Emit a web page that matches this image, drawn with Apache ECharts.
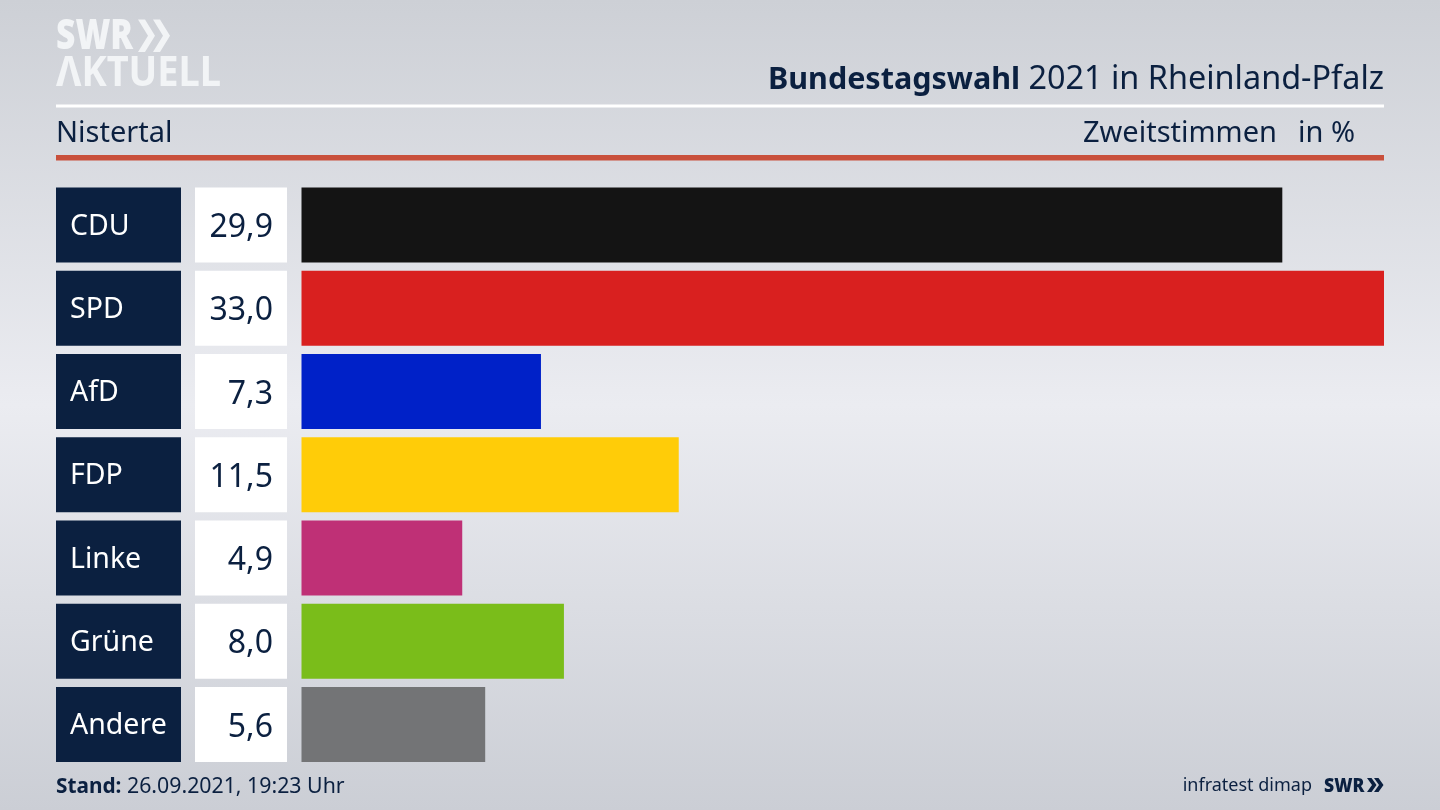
<!DOCTYPE html>
<html><head><meta charset="utf-8">
<style>html,body{margin:0;padding:0;overflow:hidden}#c{width:1440px;height:810px}</style>
<script src="https://cdn.jsdelivr.net/npm/echarts@6/dist/echarts.min.js"></script>
</head><body><div id="c"></div>
<script>
const categories = ['CDU','SPD','AfD','FDP','Linke','Grüne','Andere'];
const values = [29.9,33.0,7.3,11.5,4.9,8.0,5.6];
const colors = ['#141414','#d9201f','#0021c8','#ffcc08','#bf3076','#7abd1a','#737476'];
const titleBold = 'Bundestagswahl';
const titleRest = ' 2021 in Rheinland-Pfalz';
const region = 'Nistertal';
const unitA = 'Zweitstimmen';
const unitB = 'in %';
const standLabel = 'Stand:';
const standText = ' 26.09.2021, 19:23 Uhr';
const source = 'infratest dimap';

const FONT = '"Noto Sans", sans-serif';
const NAVY = '#0b2040';
const LOGO = '#f2f4f6';
const fmt = v => v.toFixed(1).replace('.', ',');
const chart = echarts.init(document.getElementById('c'));
const chev = (x, y, w, h, t, fill) => ({type:'polygon', shape:{points:[[x,y],[x+t,y],[x+t+w,y+h/2],[x+t,y+h],[x,y+h],[x+w,y+h/2]]}, style:{fill}, silent:true});
const txt = (x,y,text,size,extra,sx) => ({type:'text', x, y, scaleX:sx||1, silent:true, style:Object.assign({text, fontFamily:FONT, fontSize:size, fill:NAVY, textVerticalAlign:'middle'}, extra||{})});
chart.setOption({
  animation:false,
  backgroundColor:new echarts.graphic.LinearGradient(0,0,0,1,[
    {offset:0,color:'#cdd0d6'},{offset:0.5,color:'#ebecf1'},{offset:1,color:'#cbced5'}]),
  title:{
    right:56, top:64, padding:0,
    text:'{b|'+titleBold+'}{r|'+titleRest+'}',
    textStyle:{rich:{
      b:{fontFamily:FONT,fontSize:30.5,fontWeight:700,color:NAVY},
      r:{fontFamily:FONT,fontSize:32.4,fontWeight:400,color:NAVY}}}
  },
  grid:{left:301.5,right:56,top:183.4,bottom:43.8,containLabel:false},
  xAxis:{type:'value',min:0,max:33,show:false},
  yAxis:[
    {type:'category',inverse:true,data:categories,position:'left',
     axisLine:{show:false},axisTick:{show:false},
     axisLabel:{interval:0,margin:245.5,align:'left',verticalAlign:'middle',width:111,height:75,lineHeight:75,
       padding:[0,0,0,14],backgroundColor:NAVY,formatter:v=>'{t|'+v+'}',
       rich:{t:{padding:[3,0,0,0],color:'#ffffff',fontFamily:FONT,fontSize:28.5}}}},
    {type:'category',inverse:true,data:values.map(fmt),position:'left',
     axisLine:{show:false},axisTick:{show:false},
     axisLabel:{interval:0,margin:14.5,align:'right',verticalAlign:'middle',width:78,height:75,lineHeight:75,
       padding:[0,14,0,0],backgroundColor:'#ffffff',formatter:v=>'{t|'+v+'}',
       rich:{t:{padding:[6,0,0,0],color:NAVY,fontFamily:FONT,fontSize:32}}}}
  ],
  series:[{type:'bar',barWidth:75,yAxisIndex:0,
    data:values.map((v,i)=>({value:v,itemStyle:{color:colors[i]}}))}],
  graphic:[
    {type:'rect',shape:{x:56,y:104.5,width:1328,height:3},style:{fill:'#ffffff'},silent:true},
    {type:'rect',shape:{x:56,y:155,width:1328,height:5.5},style:{fill:'#c9503c'},silent:true},
    txt(56,134,region,29),
    txt(1277,134,unitA,29,{textAlign:'right'}),
    txt(1355,134,unitB,29,{textAlign:'right'}),
    {type:'text',x:56,y:787,silent:true,style:{text:'{b|'+standLabel+'}{r|'+standText+'}',textVerticalAlign:'middle',
      rich:{b:{fontFamily:FONT,fontSize:20.8,fontWeight:700,fill:NAVY,color:NAVY},r:{fontFamily:FONT,fontSize:21.3,fontWeight:400,fill:NAVY,color:NAVY}}}},
    txt(1312,786,source,18,{textAlign:'right'}),
    txt(1324,786,'SWR',20,{fontWeight:900},0.88),
    chev(1367,778,5,14,4.5,NAVY),
    chev(1374,778,5,14,4.5,NAVY),
    txt(56,37,'SWR',42,{fontWeight:900,fill:LOGO},0.8),
    chev(138,19.5,10,32.5,7,LOGO),
    chev(153,19.5,10,32.5,7,LOGO),
    txt(56,74,'ΛKTUELL',42,{fontWeight:700,fill:LOGO},0.905)
  ]
});
</script></body></html>
